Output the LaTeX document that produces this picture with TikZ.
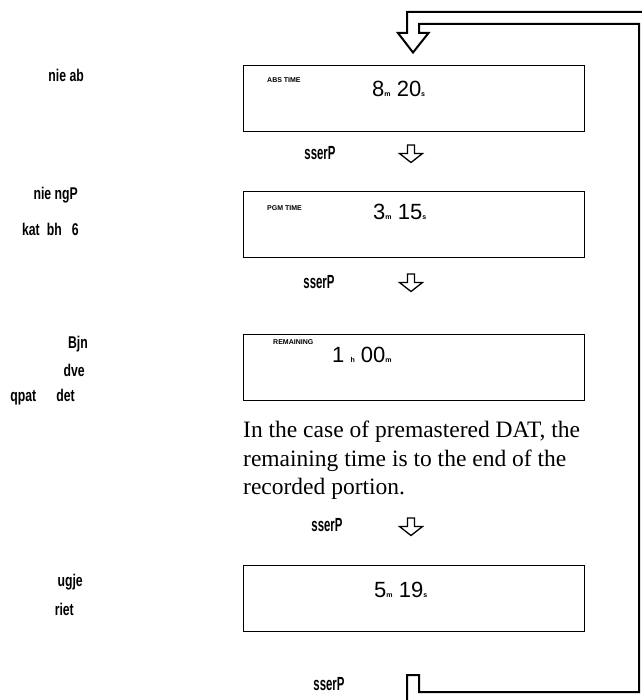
\documentclass[tikz,border=0pt]{standalone}
\usepackage{fontspec}
\setmainfont{Liberation Serif}
\newfontfamily\labfont{Liberation Sans}
\newfontfamily\digfont{Liberation Sans}
\newcommand\sml[1]{{\labfont\bfseries\fontsize{7}{7}\selectfont #1}}
\newcommand\cond[1]{\scalebox{0.6}[1]{#1}}
\newcommand\scond[1]{\scalebox{0.72}[1]{#1}}
\begin{document}
\begin{tikzpicture}[x=1pt,y=-1pt,
  lcd/.style={draw, line width=1.3pt, minimum width=341pt, minimum height=66pt, anchor=north west, inner sep=0pt},
  tag/.style={font=\labfont\bfseries\fontsize{7}{8}\selectfont, anchor=west, inner sep=0pt},
  big/.style={font=\digfont\fontsize{22}{22}\selectfont, anchor=base west, inner sep=0pt},
  press/.style={font=\labfont\bfseries\fontsize{19}{19}\selectfont, inner sep=0pt},
  side/.style={font=\labfont\bfseries\fontsize{17}{17}\selectfont, inner sep=0pt, anchor=east},
  para/.style={font=\fontsize{23.5}{28}\selectfont, anchor=base west, inner sep=0pt},
  loopline/.style={line width=2pt, line join=miter},
  hollow/.style={line width=1.3pt, line join=miter}]
\useasboundingbox (0,0) rectangle (641,700);

% boxes
\node[lcd] (b1) at (243,65) {};
\node[lcd] (b2) at (243,191) {};
\node[lcd] (b3) at (243,334) {};
\node[lcd] (b4) at (243,565) {};

% small tags
\node[tag] (t1) at (267,80) {ABS TIME};
\node[tag] (t2) at (267,208) {PGM TIME};
\node[tag] (t3) at (273,342) {REMAINING};

% digits
\node[big] (d1) at (372,97) {8\sml{m} 20\sml{s}};
\node[big] (d2) at (373,220) {3\sml{m} 15\sml{s}};
\node[big] (d3) at (332,362) {1 \sml{h} 00\sml{m}};
\node[big] (d4) at (374,597) {5\sml{m} 19\sml{s}};

% paragraph
\node[para] (l1) at (243,437) {In the case of premastered DAT, the};
\node[para] (l2) at (243,466) {remaining time is to the end of the};
\node[para] (l3) at (243,494) {recorded portion.};

% press labels
\node[press] (p1) at (320,153) {\cond{sserP}};
\node[press] (p2) at (319,282) {\cond{sserP}};
\node[press] (p3) at (327,525) {\cond{sserP}};
\node[press] (p4) at (329,684) {\cond{sserP}};

% side labels
\node[side] (s1) at (84,75) {\scond{nie ab}};
\node[side] (s2) at (78,195) {\scond{nie ngP}};
\node[side] (s3) at (79,229) {\scond{kat\hspace{10pt}bh\hspace{14pt}6}};
\node[side] (s4) at (88,344) {\scond{Bjn}};
\node[side] (s5) at (85,370) {\scond{dve}};
\node[side] (s6) at (75,397) {\scond{qpat\hspace{28pt}det}};
\node[side] (s7) at (83,582) {\scond{ugje}};
\node[side] (s8) at (74,609) {\scond{riet}};

% hollow down arrows
\coordinate (a1) at (411,145);
\coordinate (a2) at (411,274);
\coordinate (a3) at (411,518);
\foreach \a in {a1,a2,a3}{
  \draw[hollow] (\a) +(-3.5,0) -- +(3.5,0) -- +(3.5,8.5) -- +(11.5,8.5) -- +(0,17.5) -- +(-11.5,8.5) -- +(-3.5,8.5) -- cycle;
}

% return loop
\coordinate (ls) at (407,706);
\coordinate (le) at (648,12);
\draw[loopline] (ls) -- (407,675) -- (419,675) -- (419,692) -- (639,692) -- (639,24)
  -- (419,24) -- (419,33) -- (428.5,33) -- (413,52.5) -- (398,33) -- (407,33) -- (407,12) -- (le);
\end{tikzpicture}
\end{document}
